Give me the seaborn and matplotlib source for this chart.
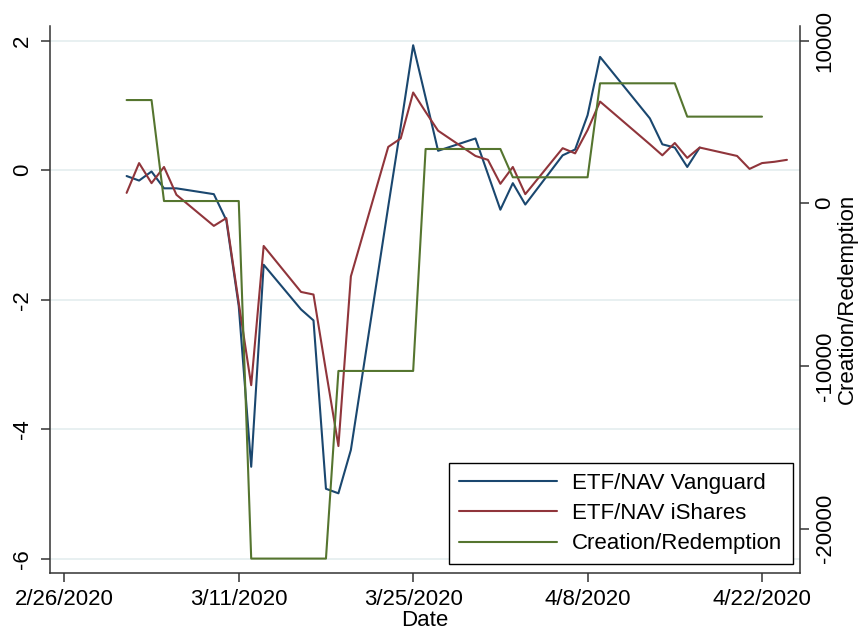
import matplotlib
matplotlib.use("Agg")
import matplotlib.pyplot as plt
import seaborn as sns
import numpy as np
import pandas as pd

# trading days shown in the chart
dates = ["2020-03-02", "2020-03-03", "2020-03-04", "2020-03-05", "2020-03-06",
         "2020-03-09", "2020-03-10", "2020-03-11", "2020-03-12", "2020-03-13",
         "2020-03-16", "2020-03-17", "2020-03-18", "2020-03-19", "2020-03-20",
         "2020-03-23", "2020-03-24", "2020-03-25", "2020-03-26", "2020-03-27",
         "2020-03-30", "2020-03-31", "2020-04-01", "2020-04-02", "2020-04-03",
         "2020-04-06", "2020-04-07", "2020-04-08", "2020-04-09", "2020-04-13",
         "2020-04-14", "2020-04-15", "2020-04-16", "2020-04-17", "2020-04-20",
         "2020-04-21", "2020-04-22", "2020-04-23", "2020-04-24"]

vanguard = [-0.09, -0.16, -0.02, -0.28, -0.28,
            -0.37, -0.77, -2.10, -4.58, -1.46,
            -2.15, -2.32, -4.92, -4.99, -4.32,
            -0.56, 0.67, 1.93, 1.12, 0.30,
            0.49, -0.06, -0.61, -0.20, -0.53,
            0.23, 0.32, 0.85, 1.75, 0.80,
            0.40, 0.35, 0.05, 0.35, np.nan,
            np.nan, np.nan, np.nan, np.nan]

ishares = [-0.35, 0.11, -0.20, 0.05, -0.38,
           -0.86, -0.74, -2.05, -3.32, -1.17,
           -1.88, -1.92, -3.10, -4.26, -1.64,
           0.36, 0.49, 1.20, 0.90, 0.61,
           0.22, 0.16, -0.21, 0.05, -0.37,
           0.34, 0.26, 0.62, 1.06, 0.40,
           0.23, 0.42, 0.19, 0.35, 0.22,
           0.02, 0.11, 0.13, 0.16]

creation = [6350, 6350, 6350, 140, 140,
            140, 140, 140, -21850, -21850,
            -21850, -21850, -21850, -10310, -10310,
            -10310, -10310, -10310, 3340, 3340,
            3340, 3340, 3340, 1600, 1600,
            1600, 1600, 1600, 7380, 7380,
            7380, 7380, 5330, 5330, 5330,
            5330, 5330, np.nan, np.nan]

tick_dates = ["2020-02-26", "2020-03-11", "2020-03-25", "2020-04-08", "2020-04-22"]
tick_labels = ["2/26/2020", "3/11/2020", "3/25/2020", "4/8/2020", "4/22/2020"]
left_ticks = [-6, -4, -2, 0, 2]
right_ticks = [-20000, -10000, 0, 10000]

df = pd.DataFrame({"date": pd.to_datetime(dates), "vanguard": vanguard,
                   "ishares": ishares, "creation": creation})

sns.set_theme(style="white")
plt.rcParams["font.family"] = ["Liberation Sans", "DejaVu Sans"]
plt.rcParams["font.size"] = 16
plt.rcParams["text.color"] = "black"
plt.rcParams["axes.labelcolor"] = "black"

axis_col = "#333333"
fs = 16
fig = plt.figure(figsize=(8.63, 6.34), dpi=100)
ax = fig.add_axes([50 / 863, 1 - 572.7 / 634, 750 / 863, 546.7 / 634])
ax2 = ax.twinx()

sns.lineplot(data=df, x="date", y="vanguard", ax=ax, color="#1a476f", lw=1.5, label="ETF/NAV Vanguard")
sns.lineplot(data=df, x="date", y="ishares", ax=ax, color="#90353b", lw=1.5, label="ETF/NAV iShares")
sns.lineplot(data=df, x="date", y="creation", ax=ax2, color="#55752f", lw=1.5, label="Creation/Redemption")

start = pd.Timestamp("2020-02-26")
ax.set_xlim(start - pd.Timedelta(days=1.15), start + pd.Timedelta(days=59.05))
ax.set_ylim(-6.216, 2.227)
ax2.set_ylim(-22718, 10904)

ax.set_xticks(pd.to_datetime(tick_dates))
ax.set_xticklabels(tick_labels)
ax.set_yticks(left_ticks)
ax.set_yticklabels([str(t) for t in left_ticks], rotation=90, va="center")
ax2.set_yticks(right_ticks)
ax2.set_yticklabels([str(t) for t in right_ticks], rotation=90, va="center")

ax.grid(axis="y", color="#e8f0f1", lw=1.4)
ax.grid(axis="x", visible=False)
ax2.grid(False)
ax.set_axisbelow(True)

for a in (ax, ax2):
    a.tick_params(length=6.5, width=1.1, color=axis_col, labelsize=fs, labelcolor="black")
    for s in a.spines.values():
        s.set_visible(False)
        s.set_color(axis_col)
        s.set_linewidth(1.1)
ax.spines["left"].set_visible(True)
ax.spines["bottom"].set_visible(True)
ax2.spines["right"].set_visible(True)
ax.tick_params(axis="y", pad=6, left=True)
ax.tick_params(axis="x", pad=5, bottom=True)
ax2.tick_params(axis="y", pad=4, right=True)

ax.set_xlabel("Date", fontsize=fs, labelpad=0, color="black")
ax.set_ylabel("")
ax2.set_ylabel("Creation/Redemption", fontsize=fs, labelpad=1, color="black")

h1, l1 = ax.get_legend_handles_labels()
h2, l2 = ax2.get_legend_handles_labels()
if ax.get_legend():
    ax.get_legend().remove()
leg = ax2.legend(h1 + h2, l1 + l2, loc="lower right", bbox_to_anchor=(0.990, 0.0154),
                 borderaxespad=0, frameon=True, fancybox=False, framealpha=1,
                 edgecolor="black", handlelength=4.4, handletextpad=0.7,
                 labelspacing=0.42, borderpad=0.45, fontsize=fs)
leg.get_frame().set_linewidth(1.0)
for t in leg.get_texts():
    t.set_color("black")

fig.savefig("out.png", dpi=100, facecolor="white")
